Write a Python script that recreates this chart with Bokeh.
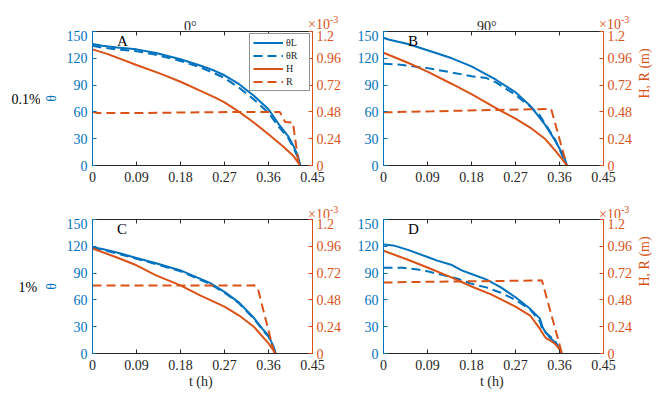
import math
from bokeh.plotting import figure
from bokeh.models import (Range1d, LinearAxis, FixedTicker, CustomJSTickFormatter,
                          Label, Legend, LegendItem)
from bokeh.core.properties import value
from bokeh.layouts import column, row
from bokeh.embed import file_html
from bokeh.resources import INLINE

BLUE = "#0072BD"
ORANGE = "#D95319"
DARK = "#262626"
FONT = "Liberation Serif"

# ---------------- tick values ----------------
x_ticks = [0, 0.09, 0.18, 0.27, 0.36, 0.45]
theta_ticks = [0, 30, 60, 90, 120, 150]
hr_ticks = [0, 0.24, 0.48, 0.72, 0.96, 1.2]   # x 1e-3 m

col_titles = ["0°", "90°"]
row_labels = ["0.1%", "1%"]
panel_letters = ["A", "B", "C", "D"]

# ---------------- Panel A (0°, 0.1%) ----------------
A_tL = [0, 0.02, 0.05, 0.09, 0.13, 0.18, 0.22, 0.25, 0.27, 0.30, 0.33, 0.36, 0.38, 0.40, 0.41, 0.42, 0.425]
A_thL = [136, 134, 132, 130, 126, 119, 112, 106, 101, 91, 78, 63, 47, 33, 23, 11, 0]
A_tR = [0, 0.02, 0.05, 0.09, 0.13, 0.18, 0.22, 0.25, 0.27, 0.30, 0.33, 0.36, 0.38, 0.40, 0.41, 0.42, 0.425]
A_thR = [134, 132, 130, 128, 124, 117, 110, 103, 98, 87, 74, 59, 44, 31, 21, 9, 0]
A_tH = [0, 0.03, 0.09, 0.14, 0.18, 0.22, 0.25, 0.27, 0.30, 0.33, 0.36, 0.39, 0.41, 0.425]
A_H = [1.04, 1.00, 0.90, 0.82, 0.75, 0.67, 0.61, 0.565, 0.48, 0.385, 0.28, 0.17, 0.09, 0.0]
A_tRd = [0, 0.01, 0.10, 0.20, 0.30, 0.383, 0.394, 0.41, 0.422]
A_R = [0.48, 0.47, 0.47, 0.475, 0.48, 0.48, 0.39, 0.385, 0.0]

# ---------------- Panel B (90°, 0.1%) ----------------
B_tL = [0, 0.01, 0.05, 0.09, 0.14, 0.18, 0.23, 0.27, 0.30, 0.33, 0.35, 0.37, 0.375]
B_thL = [143, 141, 136, 129, 120, 111, 96, 82, 67, 46, 29, 9, 0]
B_tR = [0, 0.03, 0.06, 0.09, 0.14, 0.18, 0.21, 0.23, 0.27, 0.30, 0.32, 0.35, 0.375]
B_thR = [114, 113, 111, 109, 104, 100, 98, 93, 79, 66, 56, 30, 0]
B_tH = [0, 0.05, 0.09, 0.14, 0.18, 0.24, 0.27, 0.30, 0.33, 0.35, 0.365, 0.375]
B_H = [1.01, 0.92, 0.84, 0.73, 0.64, 0.49, 0.42, 0.34, 0.24, 0.14, 0.06, 0.0]
B_tRd = [0, 0.10, 0.20, 0.30, 0.343, 0.375]
B_R = [0.476, 0.485, 0.495, 0.503, 0.506, 0.0]

# ---------------- Panel C (0°, 1%) ----------------
C_tL = [0, 0.02, 0.05, 0.09, 0.13, 0.18, 0.21, 0.24, 0.27, 0.30, 0.33, 0.35, 0.36, 0.37, 0.375]
C_thL = [119, 117, 113, 107, 101, 93, 86, 79, 69, 57, 40, 26, 20, 8, 0]
C_tR = [0, 0.02, 0.05, 0.09, 0.13, 0.18, 0.21, 0.24, 0.27, 0.30, 0.33, 0.35, 0.36, 0.37, 0.375]
C_thR = [118, 116, 112, 106, 100, 92, 85, 78, 68, 56, 39, 25, 19, 7, 0]
C_tH = [0, 0.05, 0.09, 0.13, 0.18, 0.22, 0.27, 0.30, 0.33, 0.36, 0.375]
C_H = [0.94, 0.86, 0.79, 0.70, 0.61, 0.52, 0.42, 0.34, 0.24, 0.09, 0.0]
C_tRd = [0, 0.10, 0.20, 0.32, 0.33, 0.338, 0.372]
C_R = [0.61, 0.61, 0.61, 0.61, 0.612, 0.585, 0.0]

# ---------------- Panel D (90°, 1%) ----------------
D_tL = [0, 0.02, 0.05, 0.09, 0.11, 0.14, 0.16, 0.18, 0.21, 0.24, 0.27, 0.30, 0.32, 0.325, 0.33, 0.34, 0.35, 0.36, 0.363]
D_thL = [122, 121, 116, 108, 104, 99, 93, 89, 83, 74, 63, 50, 39, 30, 25, 18, 13, 6, 0]
D_tR = [0, 0.04, 0.07, 0.09, 0.12, 0.15, 0.18, 0.21, 0.24, 0.27, 0.30, 0.32, 0.325, 0.33, 0.35, 0.365]
D_thR = [96, 96, 94, 92, 88, 84, 78, 74, 68, 60, 49, 36, 27, 24, 15, 0]
D_tH = [0, 0.05, 0.09, 0.14, 0.18, 0.22, 0.27, 0.30, 0.32, 0.33, 0.335, 0.34, 0.35, 0.36, 0.365]
D_H = [0.92, 0.84, 0.77, 0.68, 0.60, 0.53, 0.42, 0.34, 0.22, 0.15, 0.13, 0.12, 0.09, 0.04, 0.0]
D_tRd = [0, 0.05, 0.15, 0.25, 0.324, 0.365]
D_R = [0.635, 0.64, 0.645, 0.65, 0.655, 0.0]

panels = [
    (A_tL, A_thL, A_tR, A_thR, A_tH, A_H, A_tRd, A_R),
    (B_tL, B_thL, B_tR, B_thR, B_tH, B_H, B_tRd, B_R),
    (C_tL, C_thL, C_tR, C_thR, C_tH, C_H, C_tRd, C_R),
    (D_tL, D_thL, D_tR, D_thR, D_tH, D_H, D_tRd, D_R),
]

FMT = "return String(parseFloat(tick.toFixed(2)));"
DASH = "9 5"

# layout geometry (pixels)
LEFT_W = 40
BL = [47, 31]      # min_border_left per column
BR = [40, 57]      # min_border_right per column
BT = [1, 1]        # min_border_top per row
BB = [28, 40]      # min_border_bottom per row
FW, FH = 220, 134
TOP_H = [30, 25]   # text strip heights above each row


def style_axis(ax, color, ticks, label_color=None, standoff=4):
    ax.ticker = FixedTicker(ticks=ticks)
    ax.formatter = CustomJSTickFormatter(code=FMT)
    ax.axis_line_color = color
    ax.axis_line_width = 1
    ax.major_tick_line_color = color
    ax.major_tick_in = 4
    ax.major_tick_out = 0
    ax.minor_tick_line_color = None
    ax.major_label_text_color = label_color or color
    ax.major_label_text_font = FONT
    ax.major_label_text_font_size = "14px"
    ax.major_label_standoff = standoff
    ax.axis_label_text_font = FONT
    ax.axis_label_text_font_style = "normal"


def make_panel(idx):
    r, c = divmod(idx, 2)
    tL, thL, tR, thR, tH, H, tRd, R = panels[idx]
    p = figure(frame_width=FW, frame_height=FH,
               x_range=Range1d(0, 0.45), y_range=Range1d(0, 150),
               output_backend="svg", toolbar_location=None,
               min_border_left=BL[c], min_border_right=BR[c],
               min_border_top=BT[r], min_border_bottom=BB[r])
    p.outline_line_color = None
    p.grid.visible = False
    p.background_fill_color = "white"
    p.border_fill_color = "white"
    p.extra_y_ranges = {"hr": Range1d(0, 1.2)}

    xa = p.xaxis[0]
    style_axis(xa, DARK, x_ticks, standoff=6)
    if r == 1:
        xa.axis_label = "t  (h)"
        xa.axis_label_text_font_size = "14px"
        xa.axis_label_text_color = DARK
        xa.axis_label_standoff = 1

    ya = p.yaxis[0]
    style_axis(ya, BLUE, theta_ticks, standoff=5)
    if c == 0:
        ya.axis_label = "θ"
        ya.axis_label_text_font_size = "14px"
        ya.axis_label_text_color = BLUE
        ya.axis_label_standoff = 5

    ra = LinearAxis(y_range_name="hr")
    style_axis(ra, ORANGE, hr_ticks, standoff=4)
    if c == 1:
        ra.axis_label = "H, R (m)"
        ra.axis_label_text_font_size = "14px"
        ra.axis_label_text_color = ORANGE
        ra.axis_label_standoff = 9
        ra.axis_label_orientation = math.pi / 2
    p.add_layout(ra, "right")

    ta = LinearAxis()
    style_axis(ta, DARK, x_ticks, standoff=0)
    ta.formatter = CustomJSTickFormatter(code="return '';")
    p.add_layout(ta, "above")

    rL = p.line(tL, thL, line_color=BLUE, line_width=2)
    rR = p.line(tR, thR, line_color=BLUE, line_width=2, line_dash=DASH)
    rH = p.line(tH, H, line_color=ORANGE, line_width=2, y_range_name="hr")
    rRd = p.line(tRd, R, line_color=ORANGE, line_width=2, line_dash=DASH, y_range_name="hr")

    p.add_layout(Label(x=0.05, y=150, y_offset=-1, text=panel_letters[idx],
                       text_align="left", text_baseline="top",
                       text_font=FONT, text_font_size="15px", text_color="black"))

    if idx == 0:
        leg = Legend(items=[LegendItem(label="θL", renderers=[rL]),
                            LegendItem(label="θR", renderers=[rR]),
                            LegendItem(label="H", renderers=[rH]),
                            LegendItem(label="R", renderers=[rRd])],
                     location="top_right")
        leg.border_line_color = DARK
        leg.border_line_width = 1
        leg.background_fill_color = "white"
        leg.background_fill_alpha = 1
        leg.label_text_font = FONT
        leg.label_text_font_size = "10px"
        leg.label_text_color = DARK
        leg.glyph_width = 30
        leg.glyph_height = 11
        leg.label_height = 11
        leg.label_standoff = 3
        leg.spacing = 2
        leg.padding = 3
        leg.margin = 2
        p.add_layout(leg)
    return p


def strip(w, h):
    s = figure(frame_width=w, frame_height=h, x_range=Range1d(0, w), y_range=Range1d(h, 0),
               x_axis_type=None, y_axis_type=None, output_backend="svg",
               toolbar_location=None, min_border=0)
    s.outline_line_color = None
    s.grid.visible = False
    s.background_fill_color = "white"
    s.border_fill_color = "white"
    return s


def put_text(s, x, y, txt, color, size, baseline="alphabetic", align="left"):
    s.text(x=[x], y=[y], text=[txt], text_color=color, text_font=value(FONT),
           text_font_size=value(size), text_baseline=baseline, text_align=align)


figs = [make_panel(i) for i in range(4)]
TOTAL_W = LEFT_W + BL[0] + FW + BR[0] + BL[1] + FW + BR[1]
frame_left = [LEFT_W + BL[0], LEFT_W + BL[0] + FW + BR[0] + BL[1]]
frame_right = [fl + FW for fl in frame_left]

# column-title strip
top1 = strip(TOTAL_W, TOP_H[0])
put_text(top1, frame_left[0] + 96.5, 26, col_titles[0], DARK, "14px")
put_text(top1, frame_left[1] + 98.5, 26, col_titles[1], DARK, "14px")
for fr in frame_right:
    put_text(top1, fr + 0.5, 24, "×10", ORANGE, "14px")
    put_text(top1, fr + 22.5, 19, "-3", ORANGE, "10px")

top2 = strip(TOTAL_W, TOP_H[1])
for fr in frame_right:
    put_text(top2, fr + 0.5, 20.5, "×10", ORANGE, "14px")
    put_text(top2, fr + 22.5, 15.5, "-3", ORANGE, "10px")

h1 = BT[0] + FH + BB[0]
h2 = BT[1] + FH + BB[1]
left1 = strip(LEFT_W, h1)
put_text(left1, 11, BT[0] + FH / 2, row_labels[0], "black", "14px", baseline="middle")
left2 = strip(LEFT_W, h2)
put_text(left2, 18, BT[1] + FH / 2, row_labels[1], "black", "14px", baseline="middle")

layout = column(top1, row(left1, figs[0], figs[1]), top2, row(left2, figs[2], figs[3]))

html = file_html(layout, INLINE)
open("out.html", "w").write(html)
